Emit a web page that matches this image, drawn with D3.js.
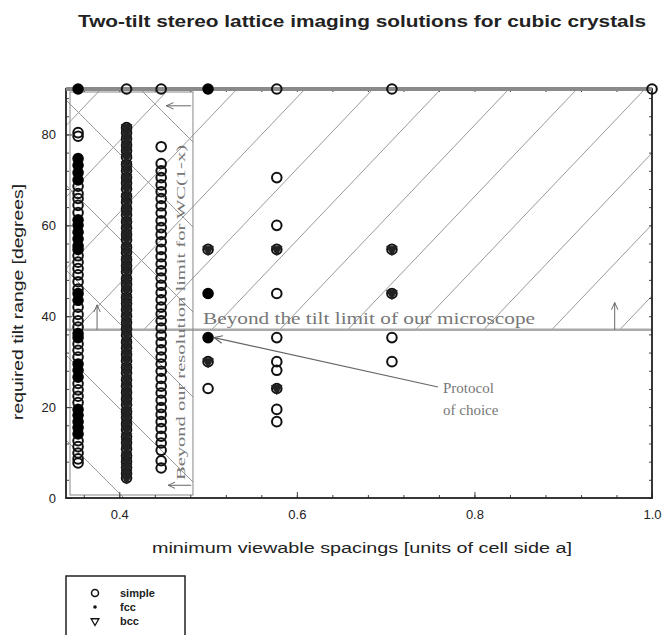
<!DOCTYPE html>
<html>
<head>
<meta charset="utf-8">
<script src="https://cdn.jsdelivr.net/npm/d3@7"></script>
<style>
  body { margin: 0; background: #fff; }
  svg { display: block; font-family: "Liberation Sans", Arial, sans-serif; }
  .ann { font-family: "Liberation Serif", "DejaVu Serif", serif; fill: #777; }
</style>
</head>
<body>
<svg id="chart" width="662" height="635"></svg>
<script>
// minimum viewable spacing columns (units of a): 1/sqrt8, 1/sqrt6, 1/sqrt5, 1/2, 1/sqrt3, 1/sqrt2, 1
var spacings = [0.3536, 0.4082, 0.4472, 0.5, 0.5774, 0.7071, 1.0];

// required tilt ranges (degrees), per column
var simple354 = [90, 80.4, 79.6, 74.7, 73.2, 71.6, 70.0, 68.6, 67.0, 65.9, 64.4, 62.8, 61.2, 60.0, 58.5, 57.0,
  55.5, 54.7, 53.3, 51.9, 50.5, 49.1, 47.6, 46.0, 45.0, 43.5, 42.0, 40.4, 39.0, 37.6, 36.2, 35.3, 33.9,
  32.5, 31.0, 29.5, 28.1, 26.6, 25.2, 23.8, 22.4, 21.0, 19.5, 18.2, 16.8, 15.5, 14.1, 12.6, 11.3, 9.9, 8.6, 7.7];
var fcc354 = [90, 74.7, 73.2, 71.6, 70.0, 61.2, 60.0, 58.5, 57.0, 55.5, 54.7, 45.0, 43.5, 36.2, 35.3,
  29.5, 28.1, 26.6, 19.5, 18.2, 16.8, 15.5, 14.1];
var simple408 = [90, 81.5, 80.4, 79.0, 77.6, 76.4, 75.0, 73.4, 72.0, 70.5, 69.3, 68.0, 66.4, 65.1, 63.6, 62.3,
  60.8, 59.4, 58.0, 56.8, 55.2, 54.0, 52.5, 51.1, 49.8, 48.2, 47.0, 45.6, 44.1, 42.8, 41.4, 40.0, 38.6,
  37.2, 35.8, 34.3, 33.0, 31.6, 30.2, 28.7, 27.5, 26.0, 24.6, 23.2, 21.8, 20.5, 19.0, 17.7, 16.3, 15.0,
  13.5, 12.2, 10.8, 9.3, 8.0, 6.7, 5.4, 4.4];
var bcc408 = [81.5, 80.4, 79.0, 77.6, 76.4, 75.0, 73.4, 72.0, 70.5, 69.3, 68.0, 66.4, 65.1, 63.6, 62.3,
  60.8, 59.4, 58.0, 56.8, 55.2, 54.0, 52.5, 51.1, 49.8, 48.2, 47.0, 45.6, 44.1, 42.8, 41.4, 40.0, 38.6,
  37.2, 35.8, 34.3, 33.0, 31.6, 30.2, 28.7, 27.5, 26.0, 24.6, 23.2, 21.8, 20.5, 19.0, 17.7, 16.3, 15.0,
  13.5, 12.2, 10.8, 9.3, 8.0, 6.7, 5.4, 4.4];
var simple447 = [90, 77.3, 73.6, 72.0, 70.5, 68.9, 67.4, 65.9, 64.3, 62.7, 61.0, 59.5, 58.0, 56.4, 54.7, 53.1,
  51.5, 50.0, 48.4, 46.8, 45.2, 43.6, 42.0, 40.5, 39.0, 37.4, 35.8, 34.2, 32.6, 31.0, 29.5, 27.9, 26.3,
  24.6, 23.1, 21.5, 19.9, 18.4, 16.8, 15.3, 13.6, 12.1, 10.5, 8.2, 6.6];
var simple500 = [90, 54.7, 45.0, 35.3, 30.0, 24.1];
var fcc500 = [90, 45.0, 35.3];
var bcc500 = [54.7, 30.0];
var simple577 = [90, 70.5, 60.0, 54.7, 45.0, 35.3, 30.0, 28.1, 24.1, 19.5, 16.8];
var bcc577 = [54.7, 24.1];
var simple707 = [90, 54.7, 45.0, 35.3, 30.0];
var bcc707 = [54.7, 45.0];
var simple1000 = [90];

var tiltLimit = 37;          // degrees, microscope tilt limit
var resolutionLimit = 0.483; // units of a, WC(1-x) resolution limit
var protocolPoint = [0.5, 35.3];

var xTicks = [0.4, 0.6, 0.8, 1.0];
var yTicks = [0, 20, 40, 60, 80];
var legendLabels = ["simple", "fcc", "bcc"];

function pts(xv, arr) { return arr.map(function(v) { return [xv, v]; }); }

var simplePts = [].concat(pts(spacings[0], simple354), pts(spacings[1], simple408), pts(spacings[2], simple447),
  pts(spacings[3], simple500), pts(spacings[4], simple577), pts(spacings[5], simple707), pts(spacings[6], simple1000));
var fccPts = [].concat(pts(spacings[0], fcc354), pts(spacings[3], fcc500));
var bccPts = [].concat(pts(spacings[1], bcc408), pts(spacings[3], bcc500), pts(spacings[4], bcc577), pts(spacings[5], bcc707));

var svg = d3.select("#chart");
var L = 66, R = 652, T = 89, B = 498;
var x = d3.scaleLinear().domain([0.34, 1.0]).range([L, R]);
var y = d3.scaleLinear().domain([0, 90]).range([B, T]);

// arrow head
svg.append("defs").append("marker")
  .attr("id", "ah").attr("viewBox", "0 0 10 10").attr("refX", 9).attr("refY", 5)
  .attr("markerWidth", 8).attr("markerHeight", 8).attr("orient", "auto")
  .append("path").attr("d", "M0,1 L9,5 L0,9").attr("fill", "none").attr("stroke", "#666").attr("stroke-width", 1.2);

function stretch(sel, len) {
  return sel.attr("textLength", len).attr("lengthAdjust", "spacingAndGlyphs");
}

// title
stretch(svg.append("text").attr("x", 362).attr("y", 27).attr("text-anchor", "middle")
  .attr("font-weight", "bold").attr("font-size", 16).attr("fill", "#222"), 568)
  .text("Two-tilt stereo lattice imaging solutions for cubic crystals");

// hatching (decoration only)
var defs = svg.select("defs");
defs.append("clipPath").attr("id", "clipUp").append("rect")
  .attr("x", L).attr("y", T).attr("width", R - L).attr("height", y(tiltLimit) - T);
defs.append("clipPath").attr("id", "clipLeft").append("rect")
  .attr("x", L).attr("y", T).attr("width", x(resolutionLimit) - L).attr("height", B - T);

var hUp = svg.append("g").attr("clip-path", "url(#clipUp)");
d3.range(-8, 14).forEach(function(k) {
  var x0 = 237 + 68 * k, s = 1.05;
  hUp.append("line").attr("x1", x0).attr("y1", T).attr("x2", x0 - 300).attr("y2", T + 300 * s)
    .attr("stroke", "#999").attr("stroke-width", 1);
});
var hLeft = svg.append("g").attr("clip-path", "url(#clipLeft)");
d3.range(-3, 6).forEach(function(k) {
  var y0 = 15 + 85 * k;
  hLeft.append("line").attr("x1", L).attr("y1", y0).attr("x2", L + 400).attr("y2", y0 + 400)
    .attr("stroke", "#999").attr("stroke-width", 1);
});

// region borders
svg.append("line").attr("x1", L).attr("x2", R).attr("y1", y(tiltLimit)).attr("y2", y(tiltLimit))
  .attr("stroke", "#aaa").attr("stroke-width", 2.5);
svg.append("rect").attr("x", L + 4).attr("y", T + 3).attr("width", x(resolutionLimit) - L - 4).attr("height", B - T - 6)
  .attr("fill", "none").attr("stroke", "#888").attr("stroke-width", 1);

// axes (ticks inside, all four sides)
function fmt1(d) { return d.toFixed(1); }
var xMinor = d3.range(0.36, 1.001, 0.04);
var yMinor = d3.range(0, 90.1, 4);
svg.append("g").attr("transform", "translate(0," + B + ")")
  .call(d3.axisBottom(x).tickValues(xMinor).tickSize(-3).tickFormat("").tickSizeOuter(0));
svg.append("g").attr("transform", "translate(0," + T + ")")
  .call(d3.axisTop(x).tickValues(xMinor).tickSize(-3).tickFormat("").tickSizeOuter(0));
svg.append("g").attr("transform", "translate(" + L + ",0)")
  .call(d3.axisLeft(y).tickValues(yMinor).tickSize(-3).tickFormat("").tickSizeOuter(0));
svg.append("g").attr("transform", "translate(" + R + ",0)")
  .call(d3.axisRight(y).tickValues(yMinor).tickSize(-3).tickFormat("").tickSizeOuter(0));

var xAx = svg.append("g").attr("transform", "translate(0," + B + ")")
  .call(d3.axisBottom(x).tickValues(xTicks).tickSize(-6).tickPadding(12).tickFormat(fmt1).tickSizeOuter(0));
var yAx = svg.append("g").attr("transform", "translate(" + L + ",0)")
  .call(d3.axisLeft(y).tickValues(yTicks).tickSize(-6).tickPadding(10).tickFormat(d3.format("d")).tickSizeOuter(0));
[xAx, yAx].forEach(function(g) {
  g.selectAll("text").attr("font-size", 13).attr("fill", "#222").attr("font-family", "Liberation Sans, Arial, sans-serif");
});
svg.selectAll(".domain").attr("stroke", "none");
svg.append("rect").attr("x", L).attr("y", T).attr("width", R - L).attr("height", B - T)
  .attr("fill", "none").attr("stroke", "#222").attr("stroke-width", 1.8);
svg.append("line").attr("x1", L).attr("x2", R).attr("y1", T).attr("y2", T)
  .attr("stroke", "#8a8a8a").attr("stroke-width", 4);
svg.selectAll(".tick line").attr("stroke", "#444");

// axis titles
stretch(svg.append("text").attr("x", 362).attr("y", 553).attr("text-anchor", "middle").attr("font-size", 14)
  .attr("fill", "#222"), 420).text("minimum viewable spacings [units of cell side a]");
stretch(svg.append("text").attr("transform", "translate(23,302) rotate(-90)").attr("text-anchor", "middle")
  .attr("font-size", 14).attr("fill", "#222"), 236).text("required tilt range [degrees]");

// annotations
stretch(svg.append("text").attr("class", "ann").attr("x", 203).attr("y", 324).attr("font-size", 16), 332)
  .text("Beyond the tilt limit of our microscope");
stretch(svg.append("text").attr("class", "ann").attr("transform", "translate(185,480) rotate(-90)")
  .attr("font-size", 12.5), 335).text("Beyond our resolution limit for WC(1-x)");
svg.append("text").attr("class", "ann").attr("x", 443).attr("y", 393).attr("font-size", 15).text("Protocol");
svg.append("text").attr("class", "ann").attr("x", 443).attr("y", 415).attr("font-size", 15).text("of choice");
svg.append("line").attr("x1", 438).attr("y1", 387).attr("x2", x(protocolPoint[0]) + 6).attr("y2", y(protocolPoint[1]))
  .attr("stroke", "#666").attr("stroke-width", 1.2).attr("marker-end", "url(#ah)");
[[0.958, tiltLimit, 0.958, 43], [0.375, tiltLimit, 0.375, 42.5]].forEach(function(a) {
  svg.append("line").attr("x1", x(a[0])).attr("y1", y(a[1])).attr("x2", x(a[2])).attr("y2", y(a[3]))
    .attr("stroke", "#666").attr("stroke-width", 1).attr("marker-end", "url(#ah)");
});
[[0.481, 86.3, 0.453, 86.3], [0.481, 2.8, 0.455, 2.8]].forEach(function(a) {
  svg.append("line").attr("x1", x(a[0])).attr("y1", y(a[1])).attr("x2", x(a[2])).attr("y2", y(a[3]))
    .attr("stroke", "#666").attr("stroke-width", 1).attr("marker-end", "url(#ah)");
});

// data marks
var tri = d3.symbol().type(d3.symbolTriangle).size(26);
var triBig = d3.symbol().type(d3.symbolTriangle).size(48);
svg.append("g").selectAll("circle").data(simplePts).enter().append("circle")
  .attr("cx", function(d) { return x(d[0]); }).attr("cy", function(d) { return y(d[1]); })
  .attr("r", 4.8).attr("fill", "none").attr("stroke", "#111").attr("stroke-width", 2);
svg.append("g").selectAll("path").data(bccPts).enter().append("path")
  .attr("d", triBig).attr("transform", function(d) { return "translate(" + x(d[0]) + "," + y(d[1]) + ") rotate(180)"; })
  .attr("fill", "#222").attr("stroke", "#222").attr("stroke-width", 1);
svg.append("g").selectAll("circle").data(fccPts).enter().append("circle")
  .attr("cx", function(d) { return x(d[0]); }).attr("cy", function(d) { return y(d[1]); })
  .attr("r", 5.2).attr("fill", "#000");

// legend
var lg = svg.append("g");
lg.append("rect").attr("x", 66).attr("y", 576).attr("width", 119).attr("height", 70)
  .attr("fill", "#fff").attr("stroke", "#222").attr("stroke-width", 1.5);
legendLabels.forEach(function(lab, i) {
  var yy = 593 + i * 14;
  if (i == 0) lg.append("circle").attr("cx", 95).attr("cy", yy).attr("r", 3.5).attr("fill", "none").attr("stroke", "#111").attr("stroke-width", 1.5);
  if (i == 1) lg.append("circle").attr("cx", 95).attr("cy", yy).attr("r", 1.8).attr("fill", "#111");
  if (i == 2) lg.append("path").attr("d", tri).attr("transform", "translate(95," + yy + ") rotate(180)")
    .attr("fill", "none").attr("stroke", "#111").attr("stroke-width", 1.3);
  lg.append("text").attr("x", 120).attr("y", yy + 4).attr("font-size", 11).attr("font-weight", "bold")
    .attr("fill", "#222").text(lab);
});
</script>
</body>
</html>
